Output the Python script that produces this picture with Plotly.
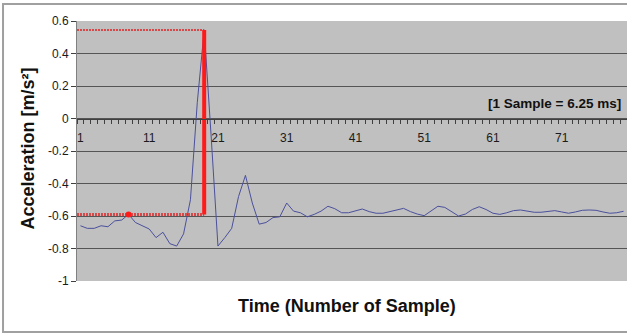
import plotly.graph_objects as go

# ---------------- data ----------------
samples = list(range(1, 81))
accel = [
    -0.66, -0.676, -0.676, -0.66, -0.666, -0.63, -0.625, -0.59, -0.64, -0.66,
    -0.68, -0.733, -0.70, -0.77, -0.785, -0.71, -0.50, 0.10, 0.545, -0.10,
    -0.785, -0.733, -0.676, -0.48, -0.35, -0.52, -0.65, -0.64, -0.61, -0.605,
    -0.52, -0.57, -0.58, -0.605, -0.59, -0.57, -0.54, -0.555, -0.58, -0.58,
    -0.567, -0.557, -0.573, -0.583, -0.583, -0.573, -0.563, -0.553, -0.573, -0.588,
    -0.598, -0.567, -0.54, -0.547, -0.573, -0.60, -0.588, -0.56, -0.543, -0.56,
    -0.583, -0.59, -0.58, -0.567, -0.563, -0.571, -0.577, -0.577, -0.571, -0.567,
    -0.575, -0.583, -0.575, -0.565, -0.563, -0.565, -0.575, -0.583, -0.58, -0.571,
]
y_tick_vals = [-1, -0.8, -0.6, -0.4, -0.2, 0, 0.2, 0.4, 0.6]
y_tick_labels = ["-1", "-0.8", "-0.6", "-0.4", "-0.2", "0", "0.2", "0.4", "0.6"]
x_tick_vals = [1, 11, 21, 31, 41, 51, 61, 71]
x_tick_labels = ["1", "11", "21", "31", "41", "51", "61", "71"]

peak_sample = 19
peak_value = 0.545
base_value = -0.59
marker_sample = 8

y_title = "Acceleration [m/s²]"
x_title = "Time (Number of Sample)"
note = "[1 Sample = 6.25 ms]"

# ---------------- figure ----------------
x_lo, x_hi = 0.5, len(samples) + 0.5
y_lo, y_hi = -1.0, 0.6

fig = go.Figure()

fig.add_trace(go.Scatter(
    x=samples, y=accel, mode="lines",
    line=dict(color="#4b509c", width=1), showlegend=False, hoverinfo="skip"))

# red guide lines
fig.add_trace(go.Scatter(
    x=[x_lo, peak_sample], y=[peak_value, peak_value], mode="lines",
    line=dict(color="#d84848", width=2, dash="2px,1px"), showlegend=False))
fig.add_trace(go.Scatter(
    x=[x_lo, peak_sample], y=[base_value, base_value], mode="lines",
    line=dict(color="#d84848", width=3, dash="2px,1px"), showlegend=False))
fig.add_trace(go.Scatter(
    x=[peak_sample, peak_sample], y=[peak_value, base_value], mode="lines",
    line=dict(color="#ff1a1a", width=4), showlegend=False))
fig.add_trace(go.Scatter(
    x=[marker_sample], y=[accel[marker_sample - 1]], mode="markers",
    marker=dict(color="#ff1a1a", size=6), showlegend=False))

zero_pos = (0 - y_lo) / (y_hi - y_lo)

fig.update_layout(
    width=627, height=335,
    margin=dict(l=77, r=0, t=21, b=54),
    paper_bgcolor="white",
    plot_bgcolor="#c0c0c0",
    font=dict(family="Arial, Liberation Sans, sans-serif", size=12, color="#1a1a1a"),
    xaxis=dict(
        range=[x_lo, x_hi], anchor="free", position=zero_pos,
        showgrid=False, zeroline=False,
        showline=True, linecolor="#404040", linewidth=1,
        tickmode="array", tickvals=x_tick_vals, ticktext=x_tick_labels,
        ticks="", ticklabelstandoff=8,
        tickfont=dict(size=12, color="#1a1a1a"),
        minor=dict(tickmode="linear", tick0=0.5, dtick=1, ticks="outside",
                   ticklen=4, tickcolor="#404040", showgrid=False),
    ),
    yaxis=dict(
        range=[y_lo, y_hi], showgrid=True, gridcolor="#555555", gridwidth=1,
        zeroline=False, showline=True, linecolor="#808080", linewidth=1,
        tickmode="array", tickvals=y_tick_vals, ticktext=y_tick_labels,
        ticks="outside", ticklen=5, tickcolor="#404040",
        tickfont=dict(size=12, color="#1a1a1a"),
    ),
    shapes=[dict(type="rect", xref="paper", yref="paper",
                 x0=-0.1345, x1=1.05, y0=-0.196, y1=1.065,
                 line=dict(color="#a0a0a0", width=2), layer="below")],
    annotations=[
        dict(text=f"<b>{y_title}</b>", xref="paper", yref="paper", x=-0.089, y=0.51,
             textangle=-90, showarrow=False, xanchor="center", yanchor="middle",
             font=dict(size=18, color="#111111")),
        dict(text=f"<b>{x_title}</b>", xref="paper", yref="paper", x=0.49, y=-0.095,
             showarrow=False, xanchor="center", yanchor="middle",
             font=dict(size=18, color="#111111")),
        dict(text=f"<b>{note}</b>", xref="paper", yref="paper", x=0.993, y=0.681,
             showarrow=False, xanchor="right", yanchor="middle",
             font=dict(size=13.5, color="#111111")),
    ],
)

fig.write_html("out.html")
